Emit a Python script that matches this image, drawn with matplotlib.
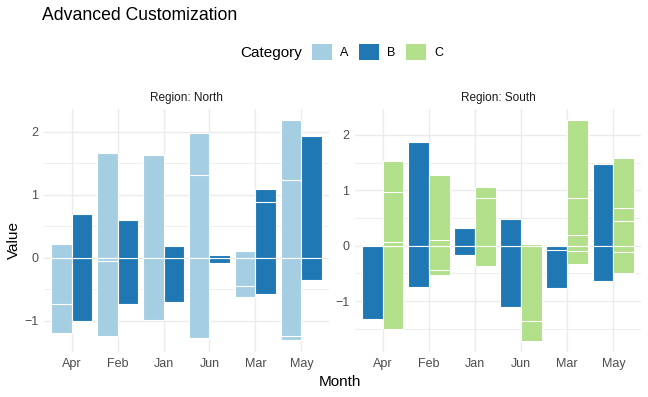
import matplotlib
matplotlib.use("Agg")
import matplotlib.pyplot as plt
from matplotlib.patches import Patch
import numpy as np

plt.rcParams['font.family'] = ['Liberation Sans', 'DejaVu Sans']

months = ["Apr", "Feb", "Jan", "Jun", "Mar", "May"]
colors = {"A": "#A6CEE3", "B": "#1F78B4", "C": "#B2DF8A"}

# values per month (several rows per month/category, drawn overlapping from 0)
north_A = [[0.22, -1.19, -0.73], [1.67, -1.25, -0.05], [1.64, -0.99],
           [1.99, 1.31, -1.28], [0.10, -0.62, -0.45], [2.19, 1.24, -1.31, -1.24]]
north_B = [[0.70, -1.01], [0.60, -0.74], [0.19, -0.71],
           [0.05, -0.09], [1.10, 0.88, -0.57], [1.94, -0.36]]
south_B = [[-1.33], [1.87, -0.75], [0.32, -0.17],
           [0.48, -1.11], [-0.77, -0.08], [1.48, -0.64]]
south_C = [[1.53, 0.97, 0.07, -1.51], [1.28, 0.10, -0.53, -0.43], [1.06, 0.86, -0.36],
           [0.03, -1.72, -1.36], [2.27, 0.86, 0.19, -0.33, -0.10], [1.59, 0.69, 0.44, -0.49, -0.12]]

panels = [("Region: North", [("A", north_A), ("B", north_B)]),
          ("Region: South", [("B", south_B), ("C", south_C)])]

W, H = 648, 397
fig = plt.figure(figsize=(W / 100, H / 100), dpi=100)

boxes = [(44, 109, 329, 352), (355, 109, 641, 352)]
grid_c = "#EBEBEB"
txt_c = "#4D4D4D"

for (strip, series), (x0, y0, x1, y1) in zip(panels, boxes):
    ax = fig.add_axes([x0 / W, 1 - y1 / H, (x1 - x0) / W, (y1 - y0) / H])
    x = np.arange(len(months))
    width = 0.45
    allv = []
    for k, (cat, vals) in enumerate(series):
        off = (k - 0.5) * width
        for i, row in enumerate(vals):
            for v in sorted(row, key=lambda t: -abs(t)):
                ax.bar(x[i] + off, v, width=width, color=colors[cat],
                       edgecolor="white", linewidth=0.8, zorder=2)
                allv.append(v)
    lo, hi = min(allv), max(allv)
    pad = (hi - lo) * 0.05
    ax.set_ylim(lo - pad, hi + pad)
    ax.set_xlim(-0.6, len(months) - 0.4)
    ax.set_xticks(x)
    ax.set_xticklabels(months)
    ax.set_yticks([-1, 0, 1, 2])
    ax.set_yticks([-1.5, -0.5, 0.5, 1.5], minor=True)
    ax.grid(True, which="major", color=grid_c, linewidth=1.0, zorder=0)
    ax.grid(True, which="minor", axis="y", color=grid_c, linewidth=0.6, zorder=0)
    ax.set_axisbelow(True)
    for s in ax.spines.values():
        s.set_visible(False)
    ax.tick_params(which="both", length=0, labelsize=9, colors=txt_c, pad=4)
    ax.set_title(strip, fontsize=8.5, color="#1A1A1A", pad=6)

fig.text(42 / W, 1 - 16 / H, "Advanced Customization", fontsize=12.7, va="center", ha="left")
fig.text(14 / W, 1 - 240 / H, "Value", fontsize=11, rotation=90, va="center", ha="center")
fig.text(340 / W, 1 - 382 / H, "Month", fontsize=11, va="center", ha="center")

fig.text(302 / W, 1 - 53 / H, "Category", fontsize=11, va="center", ha="right")
handles = [Patch(facecolor=colors[c], edgecolor="none", label=c) for c in ["A", "B", "C"]]
fig.legend(handles=handles, ncol=3, loc="center left", bbox_to_anchor=(312 / W, 1 - 52 / H),
           frameon=False, fontsize=9, handlelength=1.6, handleheight=1.65,
           handletextpad=0.65, columnspacing=0.85, borderaxespad=0, borderpad=0)

fig.savefig("out.png", dpi=100)
